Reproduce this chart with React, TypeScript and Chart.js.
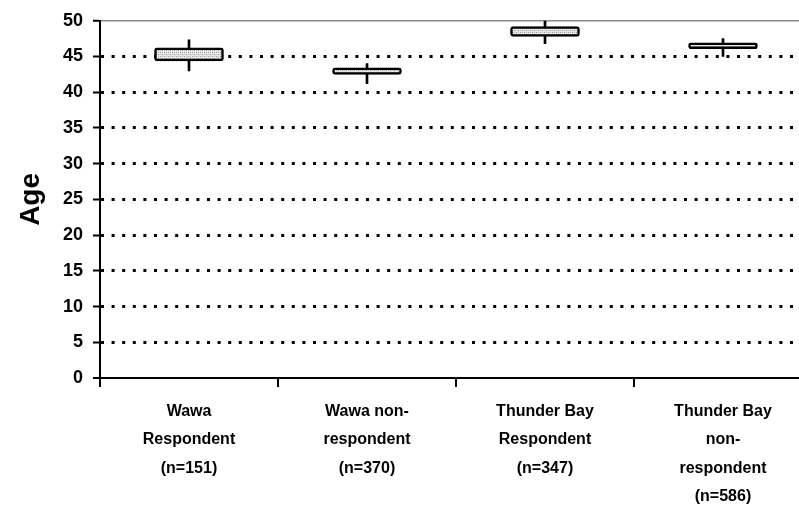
import React, { useEffect, useRef } from "react";
import { Chart, registerables } from "chart.js";

Chart.register(...registerables);

// Group labels (multi-line)
const groups: string[][] = [
  ["Wawa", "Respondent", "(n=151)"],
  ["Wawa non-", "respondent", "(n=370)"],
  ["Thunder Bay", "Respondent", "(n=347)"],
  ["Thunder Bay", "non-", "respondent", "(n=586)"],
];

// Box extents (age)
const boxLow = [44.4, 42.5, 47.8, 46.1];
const boxHigh = [46.2, 43.4, 49.2, 46.9];

// Whisker extents (age)
const whiskerLow = [43.0, 41.2, 46.8, 45.0];
const whiskerHigh = [47.35, 44.0, 50.0, 47.5];

const yTicks = [0, 5, 10, 15, 20, 25, 30, 35, 40, 45, 50];

const FONT = "Arial, 'Liberation Sans', sans-serif";

function makeStipple(): CanvasPattern | string {
  const c = document.createElement("canvas");
  c.width = 4;
  c.height = 4;
  const g = c.getContext("2d");
  if (!g) return "#d0d0d0";
  g.fillStyle = "#e6e6e6";
  g.fillRect(0, 0, 4, 4);
  g.fillStyle = "#9a9a9a";
  g.fillRect(0, 0, 1, 1);
  g.fillRect(2, 2, 1, 1);
  g.fillStyle = "#c4c4c4";
  g.fillRect(2, 0, 1, 1);
  g.fillRect(0, 2, 1, 1);
  const p = g.createPattern(c, "repeat");
  return p || "#d0d0d0";
}

export default function App() {
  const ref = useRef<HTMLCanvasElement | null>(null);

  useEffect(() => {
    if (!ref.current) return;
    const stipple = makeStipple();
    const chart = new Chart(ref.current, {
      type: "bar",
      data: {
        labels: groups,
        datasets: [
          {
            label: "range",
            data: whiskerLow.map((lo, i) => [lo, whiskerHigh[i]]),
            backgroundColor: "#000",
            borderWidth: 0,
            barThickness: 2,
            grouped: false,
            order: 2,
          } as any,
          {
            label: "box",
            data: boxLow.map((lo, i) => [lo, boxHigh[i]]),
            backgroundColor: stipple as any,
            borderColor: "#000",
            borderWidth: 2.5,
            borderRadius: 3,
            borderSkipped: false,
            barThickness: 69,
            grouped: false,
            order: 1,
          } as any,
        ],
      },
      options: {
        animation: false,
        responsive: false,
        maintainAspectRatio: false,
        layout: { padding: { top: 20, left: 0, right: 0, bottom: 0 } },
        plugins: {
          legend: { display: false },
          tooltip: { enabled: false },
        },
        scales: {
          x: {
            offset: true,
            grid: {
              offset: true,
              display: true,
              drawOnChartArea: false,
              drawTicks: true,
              tickLength: 9,
              color: "#000",
              lineWidth: 2,
            },
            border: { display: true, color: "#000", width: 2 },
            ticks: {
              color: "#000",
              padding: 10,
              maxRotation: 0,
              autoSkip: false,
              font: { family: FONT, size: 16, weight: "bold", lineHeight: 1.78 },
            },
            afterFit: (scale: any) => {
              scale.height = 131;
            },
          },
          y: {
            min: 0,
            max: 50,
            afterBuildTicks: (scale: any) => {
              scale.ticks = yTicks.map((v) => ({ value: v }));
            },
            grid: {
              display: true,
              drawOnChartArea: true,
              drawTicks: true,
              tickLength: 7,
              color: (ctx: any) => (ctx.tick && ctx.tick.value === 50 ? "#8a8a8a" : "#000"),
              lineWidth: (ctx: any) => {
                const v = ctx.tick ? ctx.tick.value : -1;
                if (v === 50) return 1.5;
                if (v === 0) return 2;
                return 3;
              },
              tickColor: "#000",
              tickWidth: 2,
            },
            border: {
              display: true,
              color: "#000",
              width: 2,
              dash: (ctx: any) => {
                const v = ctx.tick ? ctx.tick.value : -1;
                return v === 50 || v === 0 ? [] : [3, 7.6];
              },
            } as any,
            ticks: {
              color: "#000",
              padding: 10,
              font: { family: FONT, size: 18, weight: "bold" },
            },
            title: {
              display: true,
              text: "Age",
              color: "#000",
              padding: { top: 14, bottom: 0 },
              font: { family: FONT, size: 28, weight: "bold" },
            },
            afterFit: (scale: any) => {
              scale.width = 100;
            },
          },
        },
      },
    });
    return () => chart.destroy();
  }, []);

  return (
    <div
      style={{
        position: "fixed",
        left: 0,
        top: 0,
        width: 799,
        height: 509,
        overflow: "hidden",
        background: "#fff",
      }}
    >
      <canvas ref={ref} width={812} height={509} style={{ width: 812, height: 509, display: "block" }} />
    </div>
  );
}
